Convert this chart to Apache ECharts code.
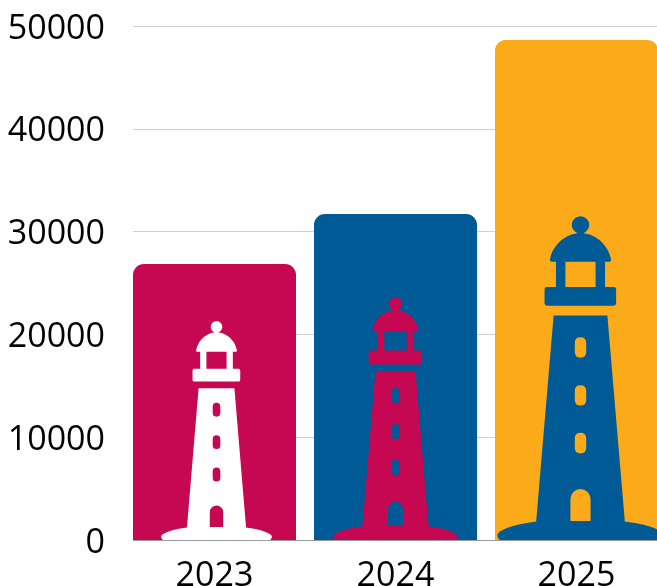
<!DOCTYPE html>
<html>
<head>
    <meta charset="utf-8">
    <title>ECharts</title>
    <script src="https://cdn.jsdelivr.net/npm/echarts@6/dist/echarts.min.js"></script>
</head>
<body style="margin: 0; background: #fff">
<div id="main" style="width: 657px; height: 586px"></div>
<script type="text/javascript">
    var years = ['2023', '2024', '2025'];
    // bar totals
    var barValues = [26850, 31700, 48650];
    // height of the lighthouse drawn inside each bar, in axis units
    var lighthouseValues = [21300, 23600, 31500];

    var barColors = ['#c60751', '#005a96', '#fbaa19'];
    var lighthouseColors = ['#ffffff', '#c60751', '#005a96'];
    var lighthouseWidths = ['68%', '76%', '102%'];
    var lighthouseShifts = [2, 0, 4];

    // outline with holes wound the other way so the bar shows through
    var lighthouse = 'path://' +
        'M274 80 A26 26 0 1 1 326 80 A26 26 0 1 1 274 80 Z ' +
        'M214 190 Q207 190 210 178 C222 130 265 104 300 104 C335 104 378 130 390 178 Q393 190 386 190 ' +
        'L373 190 L373 265 L399 265 Q406 265 406 272 L406 314 Q406 321 399 321 L200 321 Q193 321 193 314 ' +
        'L193 272 Q193 265 200 265 L227 265 L227 190 Z ' +
        'M255 190 L255 265 L345 265 L345 190 Z ' +
        'M220 350 L380 350 L432 965 Q510 975 540 995 Q555 1006 540 1020 L60 1020 Q45 1006 60 995 Q90 975 168 965 Z ' +
        'M283 432 L283 459 Q283 476 300 476 Q317 476 317 459 L317 432 Q317 415 300 415 Q283 415 283 432 Z ' +
        'M283 575 L283 602 Q283 619 300 619 Q317 619 317 602 L317 575 Q317 558 300 558 Q283 558 283 575 Z ' +
        'M283 717 L283 745 Q283 762 300 762 Q317 762 317 745 L317 717 Q317 700 300 700 Q283 700 283 717 Z ' +
        'M270 963 L330 963 L330 898 A30 30 0 0 0 270 898 Z';

    var labelFont = '"Open Sans", sans-serif';

    var myChart = echarts.init(document.getElementById('main'));

    myChart.setOption({
        animation: false,
        backgroundColor: '#fff',
        grid: { left: 124, width: 543, top: 26, height: 514, outerBoundsMode: 'none' },
        // the rules start at the first bar's edge, not at the edge of its band
        graphic: [{
            type: 'rect',
            z: 1,
            shape: { x: 112, y: 20, width: 21, height: 525 },
            style: { fill: '#fff' }
        }],
        xAxis: {
            type: 'category',
            data: years,
            axisTick: { show: false },
            axisLine: { lineStyle: { color: '#999', width: 1 } },
            axisLabel: { color: '#000', fontFamily: labelFont, fontSize: 34, margin: 19 }
        },
        yAxis: {
            type: 'value',
            min: 0,
            max: 50000,
            interval: 10000,
            axisLine: { show: false },
            axisTick: { show: false },
            splitLine: { lineStyle: { color: '#d0d0d0', width: 1 } },
            axisLabel: {
                color: '#000',
                fontFamily: labelFont,
                fontSize: 34,
                margin: 19,
                // short line box hung from the tick, moves the digits down a little
                verticalAlign: 'top',
                lineHeight: 6,
                formatter: function (v) { return String(v); }
            }
        },
        series: [
            {
                type: 'bar',
                barWidth: 163,
                z: 2,
                data: barValues.map(function (v, i) {
                    return {
                        value: v,
                        itemStyle: { color: barColors[i], borderRadius: [11, 11, 0, 0] }
                    };
                })
            },
            {
                type: 'pictorialBar',
                barGap: '-100%',
                barWidth: 163,
                symbol: lighthouse,
                symbolPosition: 'start',
                z: 5,
                data: lighthouseValues.map(function (v, i) {
                    return {
                        value: v,
                        symbolSize: [lighthouseWidths[i], '100%'],
                        symbolOffset: [lighthouseShifts[i], 0],
                        itemStyle: { color: lighthouseColors[i] }
                    };
                })
            }
        ]
    });
</script>
</body>
</html>
